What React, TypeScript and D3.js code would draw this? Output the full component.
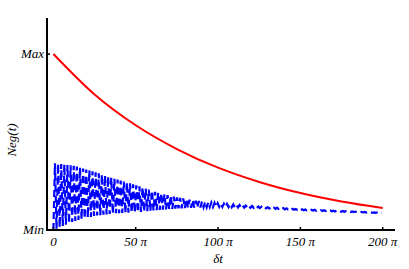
import React from 'react';
import * as d3 from 'd3';

// time samples in units of pi
const redT = [0, 25, 50, 75, 100, 125, 150, 175, 200];
const redNeg = [1.0, 0.77, 0.595, 0.46, 0.354, 0.273, 0.21, 0.162, 0.125];

// envelope of the oscillating (blue) curve
const blueT = [0, 12.5, 25, 37.5, 50, 62.5, 75, 87.5, 100, 125, 150, 175, 200];
const blueUpper = [0.38, 0.365, 0.33, 0.29, 0.255, 0.215, 0.185, 0.165, 0.152, 0.133, 0.118, 0.108, 0.098];
const blueLower = [0.0, 0.05, 0.08, 0.095, 0.1, 0.112, 0.122, 0.128, 0.132, 0.125, 0.113, 0.104, 0.096];
const oscPeriod = 1.9; // in units of pi

const xTicks = [0, 50, 100, 150, 200];
const yTicks = [{ v: 0, label: 'Min' }, { v: 1, label: 'Max' }];

export default function App() {
  const width = 409;
  const height = 269;
  const axisX = 47;
  const axisY = 230;

  const x = d3.scaleLinear().domain([0, 200]).range([53.4, 382.7]);
  const y = d3.scaleLinear().domain([0, 1]).range([axisY, 54]);

  const red = d3.line<number>()
    .x((d, i) => x(redT[i]))
    .y(d => y(d))
    .curve(d3.curveMonotoneX)(redNeg);

  const up = d3.scaleLinear().domain(blueT).range(blueUpper);
  const lo = d3.scaleLinear().domain(blueT).range(blueLower);
  const pts: [number, number][] = [];
  let k = 0;
  for (let t = 0; t <= 200; t += oscPeriod / 2, k++) {
    const v = k % 2 === 0 ? lo(t) : up(t);
    pts.push([x(t), y(v)]);
  }
  const blue = d3.line()(pts);

  const font = "'Liberation Serif', 'Times New Roman', serif";

  return (
    <svg width={width} height={height} style={{ position: 'absolute', left: 0, top: 0, background: '#fff' }}>
      <path d={blue || ''} fill="none" stroke="#0000ff" strokeWidth={2.2} strokeDasharray="7,4" />
      <path d={red || ''} fill="none" stroke="#ff0000" strokeWidth={2} />

      <line x1={axisX} x2={axisX} y1={18} y2={axisY + 1} stroke="#000" strokeWidth={2} />
      <line x1={axisX - 1} x2={395} y1={axisY} y2={axisY} stroke="#000" strokeWidth={2} />

      {xTicks.map(t => (
        <g key={t}>
          <line x1={x(t)} x2={x(t)} y1={axisY} y2={axisY - 3} stroke="#000" strokeWidth={1.5} />
          <text x={x(t)} y={axisY + 16} fontFamily={font} fontStyle="italic" fontSize={13} textAnchor="middle">
            {t === 0 ? '0' : `${t} π`}
          </text>
        </g>
      ))}
      {yTicks.map(d => (
        <g key={d.label}>
          <line x1={axisX} x2={axisX + 3} y1={y(d.v)} y2={y(d.v)} stroke="#000" strokeWidth={1.5} />
          <text x={axisX - 3} y={y(d.v) + 4} fontFamily={font} fontStyle="italic" fontSize={13} textAnchor="end">
            {d.label}
          </text>
        </g>
      ))}

      <text x={218} y={263} fontFamily={font} fontStyle="italic" fontSize={13} textAnchor="middle">δt</text>
      <text transform="translate(16,140) rotate(-90)" fontFamily={font} fontStyle="italic" fontSize={13} textAnchor="middle">Neg(t)</text>
    </svg>
  );
}
